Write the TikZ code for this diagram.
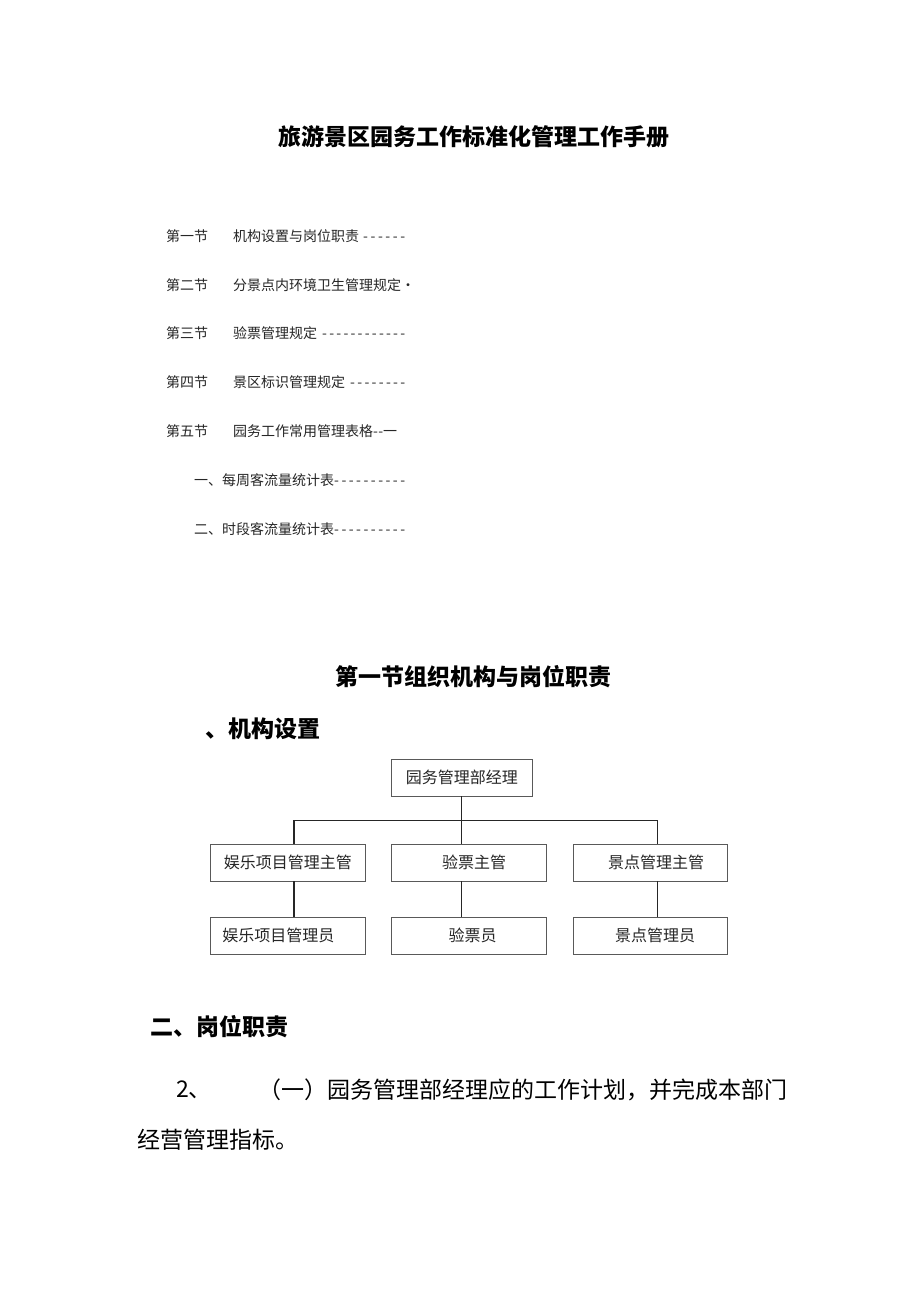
\documentclass[tikz,border=0pt]{standalone}
\usepackage{fontspec}
\setmainfont{Noto Sans CJK SC}
\newcommand\titlefont{\fontsize{23}{23}\selectfont\bfseries}
\newcommand\headfont{\fontsize{23}{23}\selectfont\bfseries}
\newcommand\tocfont{\fontsize{14}{14}\selectfont}
\newcommand\orgfont{\fontsize{16}{16}\selectfont}
\newcommand\bodyfont{\fontsize{23}{23}\selectfont}
\begin{document}
\begin{tikzpicture}[x=1pt,y=-1pt]
\tikzset{
  txt/.style={inner sep=0pt, anchor=west},
  toc/.style={txt, font=\tocfont, text=black!85},
  orgbox/.style={draw=black!65, line width=0.8pt, minimum height=37pt, inner sep=0pt, font=\orgfont, text=black!85},
  link/.style={draw=black!85, line width=1.2pt},
}
\useasboundingbox[fill=white] (0,0) rectangle (920,1301);

% title
\node[txt, anchor=center, font=\titlefont] (title) at (474,137) {旅游景区园务工作标准化管理工作手册};

% table of contents
\node[toc] (t1a) at (166,236) {第一节};
\node[toc] (t1b) at (233,236) {机构设置与岗位职责\hspace{4pt}\makebox[42pt][s]{-\hfil-\hfil-\hfil-\hfil-\hfil-}};
\node[toc] (t2a) at (166,285) {第二节};
\node[toc] (t2b) at (233,285) {分景点内环境卫生管理规定•};
\node[toc] (t3a) at (166,333) {第三节};
\node[toc] (t3b) at (233,333) {验票管理规定\hspace{5pt}\makebox[83pt][s]{-\hfil-\hfil-\hfil-\hfil-\hfil-\hfil-\hfil-\hfil-\hfil-\hfil-\hfil-}};
\node[toc] (t4a) at (166,382) {第四节};
\node[toc] (t4b) at (233,382) {景区标识管理规定\hspace{5pt}\makebox[55pt][s]{-\hfil-\hfil-\hfil-\hfil-\hfil-\hfil-\hfil-}};
\node[toc] (t5a) at (166,431) {第五节};
\node[toc] (t5b) at (233,431) {园务工作常用管理表格\makebox[10pt][s]{-\hfil-}一};
\node[toc] (t6) at (194,480) {一、每周客流量统计表\makebox[71pt][s]{-\hfil-\hfil-\hfil-\hfil-\hfil-\hfil-\hfil-\hfil-\hfil-}};
\node[toc] (t7) at (194,529) {二、时段客流量统计表\makebox[71pt][s]{-\hfil-\hfil-\hfil-\hfil-\hfil-\hfil-\hfil-\hfil-\hfil-}};

% headings
\node[txt, anchor=center, font=\headfont] (h1) at (473,677) {第一节组织机构与岗位职责};
\node[txt, font=\headfont] (h2) at (205,729) {、机构设置};

% org chart
\node[orgbox, minimum width=140.5pt] (top) at (461.75,777.5) {园务管理部经理};
\node[orgbox, minimum width=154.5pt] (l2) at (287.75,862.5) {娱乐项目管理主管};
\node[orgbox, minimum width=155pt] (m2) at (468.5,862.5) {\hspace*{11pt}验票主管};
\node[orgbox, minimum width=154pt] (r2) at (650,862.5) {\hspace*{12pt}景点管理主管};
\node[orgbox, minimum width=154.5pt] (l3) at (287.75,935.5) {娱乐项目管理员\hspace*{19pt}};
\node[orgbox, minimum width=155pt] (m3) at (468.5,935.5) {\hspace*{8pt}验票员};
\node[orgbox, minimum width=154pt] (r3) at (650,935.5) {\hspace*{10pt}景点管理员};

\coordinate (jl) at (294,820.5);
\coordinate (jm) at (461.75,820.5);
\coordinate (jr) at (657.5,820.5);
\draw[link] (top.south) -- (jm) -- (jm |- m2.north);
\draw[link] (jl |- l2.north) -- (jl) -- (jr) -- (jr |- r2.north);
\draw[link] (jl |- l2.south) -- (jl |- l3.north);
\draw[link] (jm |- m2.south) -- (jm |- m3.north);
\draw[link] (jr |- r2.south) -- (jr |- r3.north);

% section two
\node[txt, font=\headfont] (h3) at (150,1027) {二、岗位职责};
\node[txt, font=\bodyfont] (p0) at (176,1090) {2、};
\node[txt, font=\bodyfont] (p1) at (258,1090) {（一）园务管理部经理应的工作计划，并完成本部门};
\node[txt, font=\bodyfont] (p2) at (137,1140) {经营管理指标。};
\end{tikzpicture}
\end{document}
